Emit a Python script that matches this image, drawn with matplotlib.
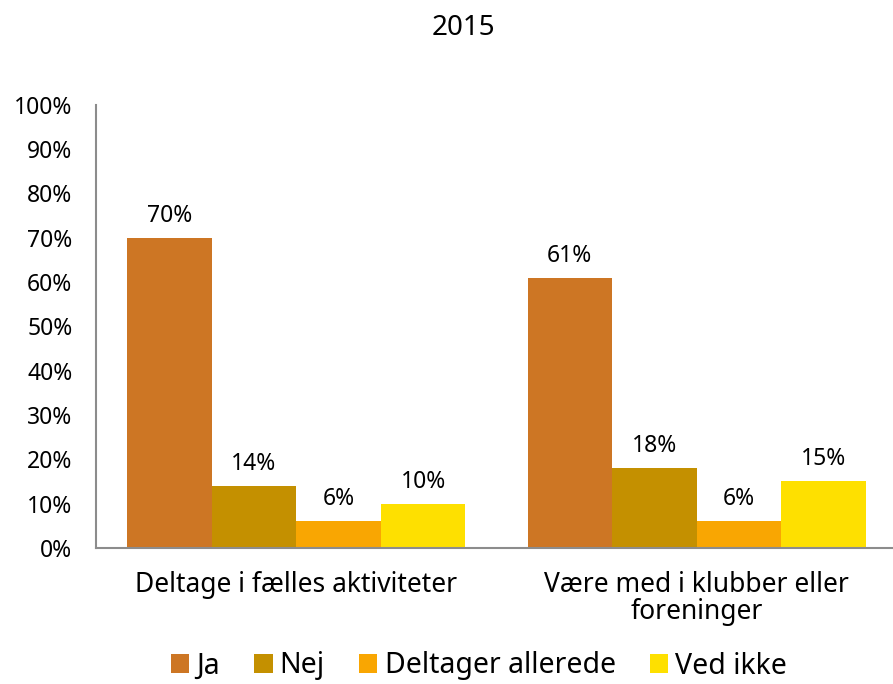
import numpy as np
import matplotlib.pyplot as plt

categories = ['Deltage i fælles aktiviteter', 'Være med i klubber eller\nforeninger']
series = ['Ja', 'Nej', 'Deltager allerede', 'Ved ikke']
values = {
    'Ja': [70, 61],
    'Nej': [14, 18],
    'Deltager allerede': [6, 6],
    'Ved ikke': [10, 15],
}
colors = ['#CD7624', '#C49000', '#F9A602', '#FEE000']
yticks = np.arange(0, 101, 10)

plt.rcParams['font.family'] = ['Noto Sans', 'DejaVu Sans']

fig = plt.figure(figsize=(8.93, 6.84), dpi=100)
ax = fig.add_axes([0.1075, 0.199, 0.8925, 0.6477])

x = np.arange(len(categories))
w = 0.845 / len(series)
for i, (name, c) in enumerate(zip(series, colors)):
    pos = x - 0.845 / 2 + w * (i + 0.5)
    bars = ax.bar(pos, values[name], width=w, color=c, label=name)
    for b, v in zip(bars, values[name]):
        ax.annotate(f'{v}%', (b.get_x() + b.get_width() / 2, v),
                    xytext=(0, 22), textcoords='offset pixels',
                    ha='center', va='center', fontsize=16.5)

ax.set_xlim(-0.5, 1.49)
ax.set_ylim(0, 100)
ax.set_yticks(yticks)
ax.set_yticklabels([f'{t}%' for t in yticks], fontsize=16.5)
ax.set_xticks(x)
ax.set_xticklabels(categories, fontsize=19, va='top', linespacing=0.95)
ax.tick_params(axis='y', length=0, pad=17)
ax.tick_params(axis='x', length=0, pad=17)
for s in ['top', 'right']:
    ax.spines[s].set_visible(False)
for s in ['left', 'bottom']:
    ax.spines[s].set_color('#8C8C8C')
    ax.spines[s].set_linewidth(1.5)

fig.text(463 / 893, 1 - 28 / 684, '2015', ha='center', va='center', fontsize=20)

fig.legend(loc='center', bbox_to_anchor=(479 / 893, 1 - 666 / 684), ncol=4,
           frameon=False, fontsize=20.5,
           handlelength=0.65, handleheight=0.65,
           handletextpad=0.25, columnspacing=1.2)

fig.savefig('out.png', dpi=100)
